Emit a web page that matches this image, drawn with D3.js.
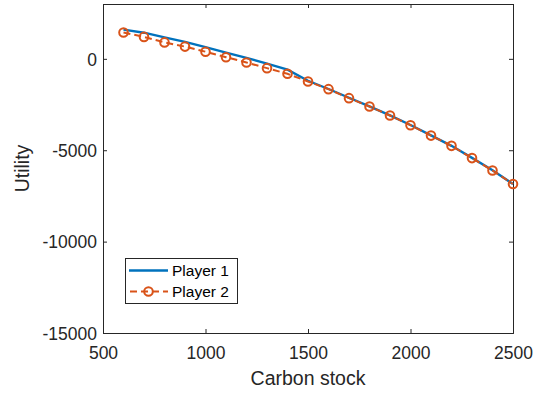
<!DOCTYPE html>
<html>
<head>
<meta charset="utf-8">
<script src="https://cdn.jsdelivr.net/npm/d3@7"></script>
<style>
  html, body { margin: 0; padding: 0; background: #fff; }
  svg { display: block; font-family: "Liberation Sans", Arial, Helvetica, sans-serif; }
</style>
</head>
<body>
<svg id="chart" width="539" height="393"></svg>
<script>
// ---- data ----
const carbonStock = [600, 700, 800, 900, 1000, 1100, 1200, 1300, 1400, 1500, 1600, 1700, 1800, 1900, 2000, 2100, 2200, 2300, 2400, 2500];
const player1 = [1600, 1430, 1170, 930, 640, 340, 50, -260, -590, -1200, -1650, -2130, -2600, -3090, -3620, -4190, -4760, -5420, -6100, -6850];
const player2 = [1440, 1200, 900, 670, 390, 90, -200, -510, -820, -1240, -1660, -2150, -2610, -3100, -3630, -4200, -4760, -5430, -6110, -6850];
const seriesNames = ["Player 1", "Player 2"];
const xTicks = [500, 1000, 1500, 2000, 2500];
const yTicks = [-15000, -10000, -5000, 0];
const xDomain = [500, 2500];
const yDomain = [-15000, 3000];

const svg = d3.select("#chart");
const m = { left: 103, right: 513, top: 4, bottom: 333 };
const x = d3.scaleLinear().domain(xDomain).range([m.left, m.right]);
const y = d3.scaleLinear().domain(yDomain).range([m.bottom, m.top]);

const axisColor = "#262626";
const blue = "#0072BD", orange = "#D95319";
const tickLen = 4;
const fmt = d => String(d);

// axes
const gx = svg.append("g").attr("transform", `translate(0,${m.bottom})`)
  .call(d3.axisBottom(x).tickValues(xTicks).tickSize(-tickLen).tickPadding(0).tickFormat(fmt));
const gy = svg.append("g").attr("transform", `translate(${m.left},0)`)
  .call(d3.axisLeft(y).tickValues(yTicks).tickSize(-tickLen).tickPadding(6).tickFormat(fmt));
const gxt = svg.append("g").attr("transform", `translate(0,${m.top})`)
  .call(d3.axisTop(x).tickValues(xTicks).tickSize(-tickLen).tickFormat(""));
const gyr = svg.append("g").attr("transform", `translate(${m.right},0)`)
  .call(d3.axisRight(y).tickValues(yTicks).tickSize(-tickLen).tickFormat(""));

[gx, gy, gxt, gyr].forEach(g => {
  g.select(".domain").attr("stroke", axisColor).attr("stroke-width", 1);
  g.selectAll(".tick line").attr("stroke", axisColor).attr("stroke-width", 1);
  g.selectAll(".tick text").attr("fill", "#262626").style("font-size", "17.5px")
   .style("font-family", "'Liberation Sans', Arial, sans-serif");
});
gx.selectAll(".tick text").attr("y", 26).attr("dy", null);
gy.selectAll(".tick text").attr("x", -6).attr("dy", "0.36em");

// axis labels
svg.append("text").attr("x", (m.left + m.right) / 2).attr("y", 385)
  .attr("text-anchor", "middle").attr("fill", "#262626").style("font-size", "19.5px").text("Carbon stock");
svg.append("text").attr("transform", `translate(29,${(m.top + m.bottom) / 2}) rotate(-90)`)
  .attr("text-anchor", "middle").attr("fill", "#262626").style("font-size", "19.5px").text("Utility");

// series
const line = d3.line().x((d, i) => x(carbonStock[i])).y(d => y(d));
svg.append("path").datum(player1).attr("d", line)
  .attr("fill", "none").attr("stroke", blue).attr("stroke-width", 2.4);
svg.append("path").datum(player2).attr("d", line)
  .attr("fill", "none").attr("stroke", orange).attr("stroke-width", 2).attr("stroke-dasharray", "7,4");
svg.append("g").selectAll("circle").data(player2).join("circle")
  .attr("cx", (d, i) => x(carbonStock[i])).attr("cy", d => y(d)).attr("r", 4.3)
  .attr("fill", "none").attr("stroke", orange).attr("stroke-width", 2);

// legend
const lg = svg.append("g");
lg.append("rect").attr("x", 125.5).attr("y", 258.5).attr("width", 112).attr("height", 45)
  .attr("fill", "#fff").attr("stroke", axisColor).attr("stroke-width", 1);
const ly = [270.5, 291.5];
lg.append("line").attr("x1", 129).attr("x2", 168).attr("y1", ly[0]).attr("y2", ly[0])
  .attr("stroke", blue).attr("stroke-width", 2.4);
lg.append("line").attr("x1", 129).attr("x2", 168).attr("y1", ly[1]).attr("y2", ly[1])
  .attr("stroke", orange).attr("stroke-width", 2).attr("stroke-dasharray", "7,4").attr("stroke-dashoffset", -1);
lg.append("circle").attr("cx", 148.5).attr("cy", ly[1]).attr("r", 4.3)
  .attr("fill", "none").attr("stroke", orange).attr("stroke-width", 2);
seriesNames.forEach((n, i) => {
  lg.append("text").attr("x", 172).attr("y", ly[i]).attr("dy", "0.36em")
    .attr("fill", "#000").style("font-size", "15.5px").text(n);
});
</script>
</body>
</html>
